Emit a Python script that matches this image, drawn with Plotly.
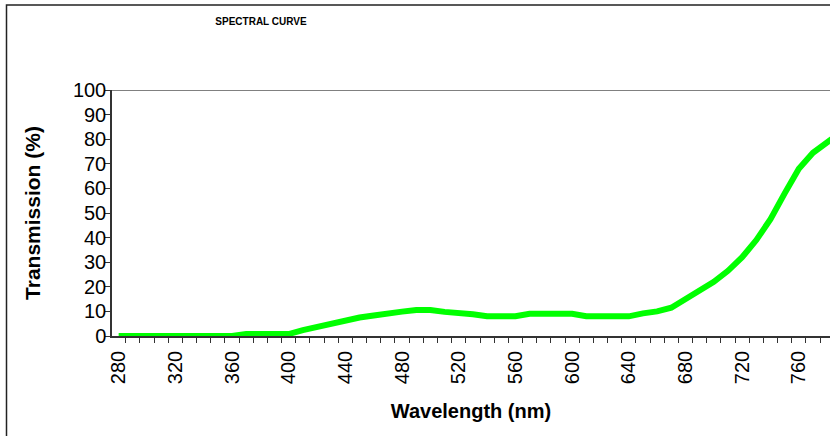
import plotly.graph_objects as go

wavelength = list(range(280, 800, 10))
transmission = [0, 0, 0, 0, 0, 0, 0, 0, 0, 0.8,
                0.8, 0.8, 0.8, 2.4, 3.7, 4.8, 6.6, 7.5, 8.3, 9.3,
                9.9, 10.6, 10.6, 9.8, 9.6, 8.8, 8.0, 8.0, 8.0, 9.0,
                9.0, 9.0, 9.0, 8.0, 8.0, 8.0, 8.0, 9.2, 10.0, 11.5,
                14.8, 18.0, 22.0, 26.5, 32.0, 39.0, 47.5, 58.0, 68.0, 74.5,
                79.0, 83.0]
x_tick_vals = list(range(280, 800, 40))
y_tick_vals = list(range(0, 101, 10))

FONT = "Liberation Sans, Arial, sans-serif"

fig = go.Figure()
fig.add_trace(go.Scatter(x=wavelength, y=transmission, mode="lines",
                         line=dict(color="#00FF00", width=6),
                         showlegend=False, hoverinfo="skip"))

fig.update_layout(
    width=830, height=436,
    margin=dict(l=112, r=0, t=90, b=100, autoexpand=False),
    paper_bgcolor="white", plot_bgcolor="rgba(0,0,0,0)",
    title=dict(text="<b>SPECTRAL CURVE</b>", x=261/830, xref="container", xanchor="center",
               y=1 - 21/436, yref="container", yanchor="middle",
               font=dict(family=FONT, size=10, color="black")),
    font=dict(family=FONT, color="black"),
)

fig.update_xaxes(
    range=[275.3, 782], showgrid=False, zeroline=False, automargin=False,
    showline=True, linecolor="#333333", linewidth=1.5,
    tickmode="array", tickvals=x_tick_vals, ticks="outside", ticklen=5,
    tickcolor="rgba(0,0,0,0)",
    tickangle=-90, tickfont=dict(size=20, family=FONT, color="black"),
    minor=dict(tickmode="linear", tick0=275, dtick=10, ticks="outside", ticklen=5,
               tickcolor="#333333", showgrid=False),
    title=dict(text="<b>Wavelength (nm)</b>", font=dict(size=20, family=FONT, color="black"),
               standoff=21),
)
fig.update_yaxes(
    range=[0, 100], showgrid=False, zeroline=False, automargin=False,
    showline=True, linecolor="#333333", linewidth=1.5,
    tickmode="array", tickvals=y_tick_vals, ticks="outside", ticklen=5,
    tickcolor="#333333", ticklabelstandoff=-5,
    tickfont=dict(size=20, family=FONT, color="black"),
    title=dict(text="<b>Transmission (%)</b>", font=dict(size=21, family=FONT, color="black"),
               standoff=27),
)

# top border of the plot area
fig.add_hline(y=100, line=dict(color="#808080", width=2), layer="above")
# outer chart border (extends beyond the visible window)
fig.add_shape(type="rect", xref="paper", yref="paper",
              x0=(6.5 - 112) / 718, x1=1.5, y0=-1.0, y1=(336 - 5) / 246,
              line=dict(color="#222222", width=1.5), layer="below")

fig.write_html("out.html", config={"displayModeBar": False},
               post_script="document.body.style.margin='0px';document.body.style.overflow='hidden';")
